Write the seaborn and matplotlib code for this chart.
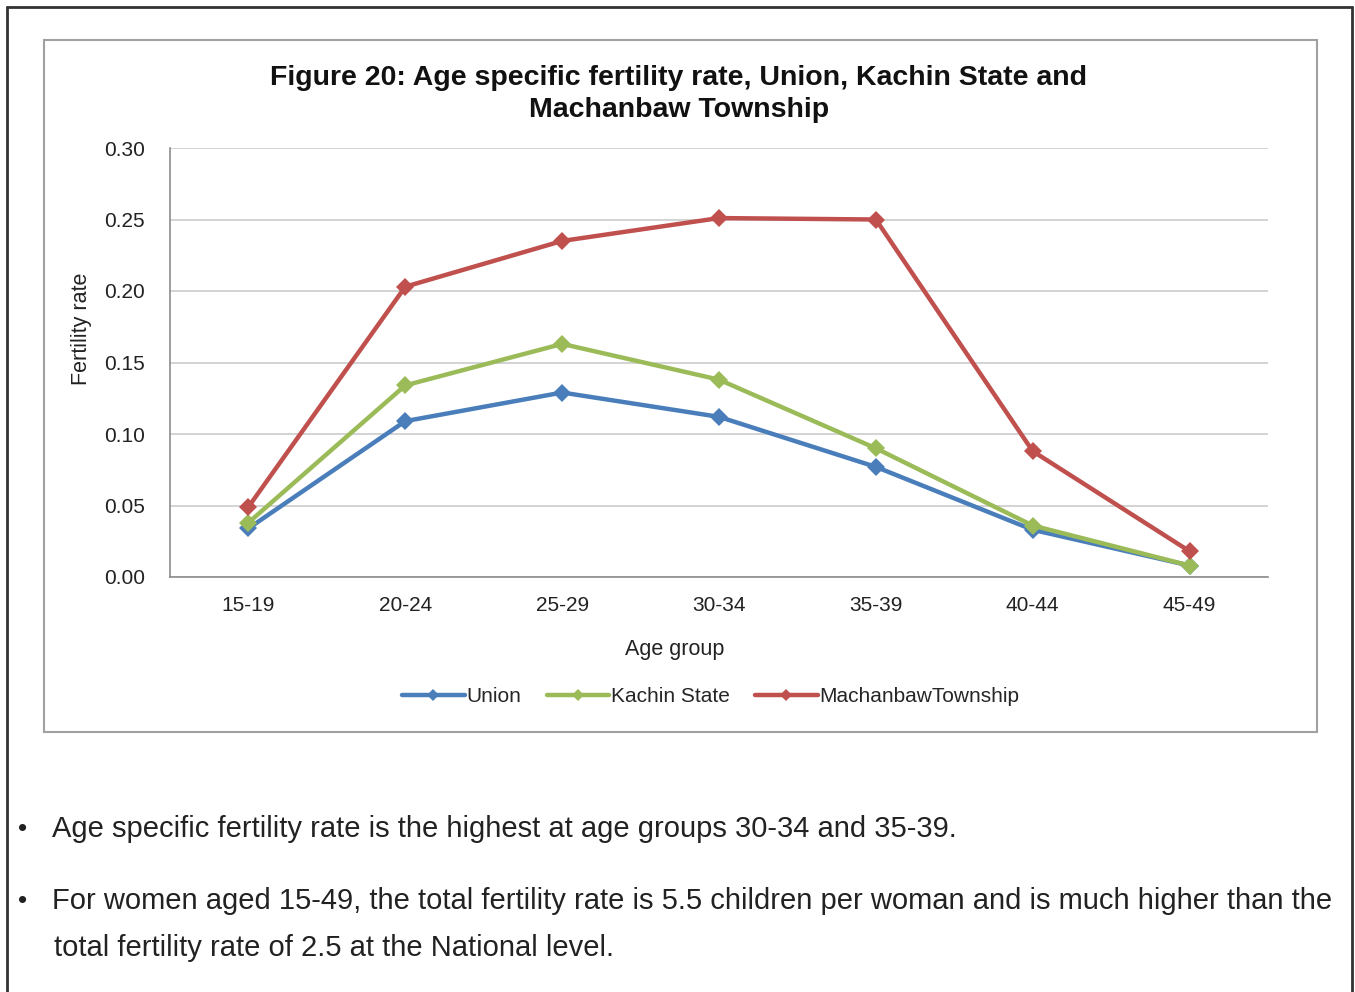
import seaborn as sns
import pandas as pd
import matplotlib.pyplot as plt
from matplotlib.patches import Rectangle
from matplotlib.lines import Line2D

age_groups = ['15-19', '20-24', '25-29', '30-34', '35-39', '40-44', '45-49']
union = [0.034, 0.109, 0.129, 0.112, 0.077, 0.033, 0.008]
kachin = [0.038, 0.134, 0.163, 0.138, 0.090, 0.036, 0.008]
machanbaw = [0.049, 0.203, 0.235, 0.251, 0.250, 0.088, 0.018]
series_names = ['Union', 'Kachin State', 'MachanbawTownship']
colors = ['#4A7EBB', '#9BBB59', '#C0504D']
y_ticks = [0.00, 0.05, 0.10, 0.15, 0.20, 0.25, 0.30]

df = pd.DataFrame({
    'age': age_groups * 3,
    'rate': union + kachin + machanbaw,
    'series': [series_names[0]] * 7 + [series_names[1]] * 7 + [series_names[2]] * 7,
})

sns.set_style('white')
plt.rcParams['font.family'] = ['Liberation Sans', 'DejaVu Sans']

W, H = 1355, 992
fig = plt.figure(figsize=(W / 100, H / 100), dpi=100)

def fx(px):
    return px / W

def fy(py):
    return 1 - py / H

ax = fig.add_axes([fx(170), fy(577), fx(1268) - fx(170), fy(148) - fy(577)])

sns.lineplot(data=df, x='age', y='rate', hue='series', style='series',
             palette=colors, markers=['D', 'D', 'D'], dashes=False,
             linewidth=3.2, markersize=9, markeredgewidth=0, sort=False,
             legend=False, ax=ax)

ax.set_xlim(-0.5, 6.5)
ax.set_ylim(0, 0.30)
ax.set_yticks(y_ticks)
ax.set_yticklabels([f'{v:.2f}' for v in y_ticks])
ax.set_xticks(range(len(age_groups)))
ax.set_xticklabels(age_groups)
ax.set_xticks([i - 0.5 for i in range(len(age_groups) + 1)], minor=True)
ax.tick_params(axis='x', which='major', length=0, pad=14, labelsize=15, colors='#222222')
ax.tick_params(axis='x', which='minor', length=7, width=1.2, color='#8c8c8c', direction='out')
ax.tick_params(axis='y', length=6, width=1.2, color='#8c8c8c', direction='out', pad=12,
               labelsize=15, labelcolor='#222222')
ax.yaxis.grid(True, color='#cccccc', linewidth=1.2)
ax.set_axisbelow(True)
for s in ['top', 'right']:
    ax.spines[s].set_visible(False)
for s in ['left', 'bottom']:
    ax.spines[s].set_color('#8c8c8c')
    ax.spines[s].set_linewidth(1.2)
ax.set_xlabel('')
ax.set_ylabel('')

fig.text(fx(82), fy(329), 'Fertility rate', rotation=90, ha='center', va='center',
         fontsize=15.5, color='#222222')
fig.text(fx(675), fy(649), 'Age group', ha='center', va='center', fontsize=15.5, color='#222222')
fig.text(fx(679), fy(94), 'Figure 20: Age specific fertility rate, Union, Kachin State and\nMachanbaw Township',
         ha='center', va='center', fontsize=20.5, fontweight='bold', color='#111111',
         linespacing=1.32)

handles = [Line2D([0], [0], color=c, lw=3.2, marker='D', markersize=6, markeredgewidth=0)
           for c in colors]
fig.legend(handles, series_names, loc='center', bbox_to_anchor=(fx(711), fy(697)),
           ncol=3, frameon=False, fontsize=15, handlelength=3.0, handletextpad=0.1,
           columnspacing=1.2)

# chart frame and page frame
fig.patches.append(Rectangle((fx(44), fy(732)), fx(1317) - fx(44), fy(40) - fy(732),
                             transform=fig.transFigure, fill=False,
                             edgecolor='#a0a0a0', linewidth=1.5))
fig.lines.append(Line2D([fx(7), fx(1352)], [fy(7), fy(7)], transform=fig.transFigure,
                        color='#333333', linewidth=2))
fig.lines.append(Line2D([fx(7), fx(7)], [fy(7), 0.0], transform=fig.transFigure,
                        color='#333333', linewidth=2))
fig.lines.append(Line2D([fx(1352), fx(1352)], [fy(7), 0.0], transform=fig.transFigure,
                        color='#333333', linewidth=2))

bullets = [
    (829, 'Age specific fertility rate is the highest at age groups 30-34 and 35-39.'),
    (901, 'For women aged 15-49, the total fertility rate is 5.5 children per woman and is much higher than the'),
]
for y, txt in bullets:
    fig.text(fx(18), fy(y), '•', ha='left', va='center', fontsize=19, color='#222222')
    fig.text(fx(52), fy(y), txt, ha='left', va='center', fontsize=21, color='#222222')
fig.text(fx(54), fy(948), 'total fertility rate of 2.5 at the National level.', ha='left',
         va='center', fontsize=21, color='#222222')

fig.savefig('out.png', dpi=100, facecolor='white')
